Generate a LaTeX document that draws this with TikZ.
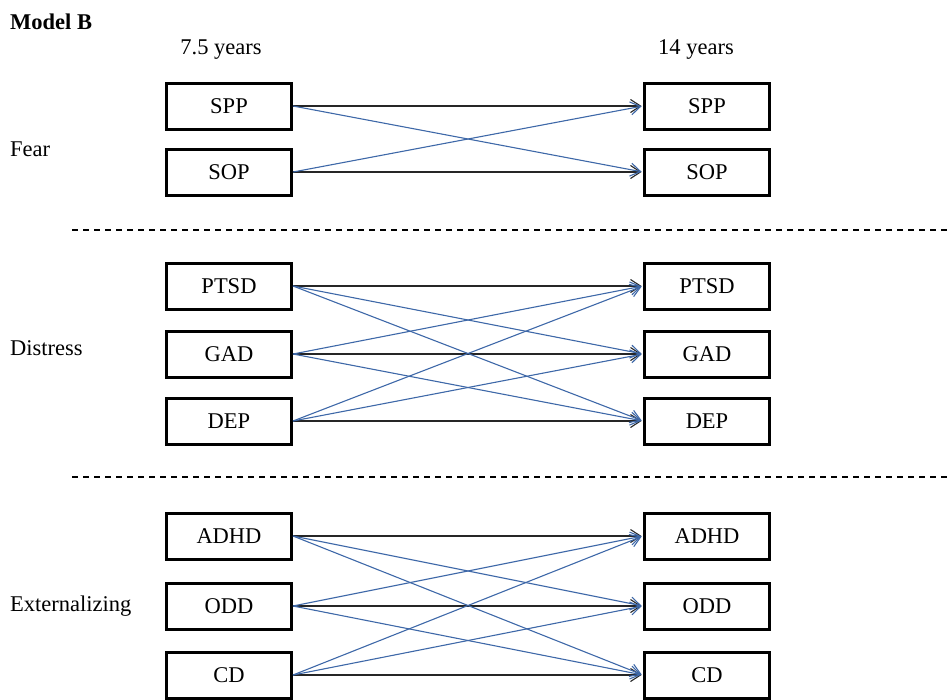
\documentclass[tikz,border=0pt]{standalone}
\usepackage{fontspec}
\setmainfont{Liberation Serif}
\usetikzlibrary{arrows.meta}
\definecolor{pathblue}{RGB}{62,104,168}

\begin{document}
\begin{tikzpicture}[x=1pt,y=-1pt,>={Straight Barb[length=10pt,width=13pt]},shorten >=1.5pt,
    box node/.style={rectangle,draw,line width=3pt,minimum width=125pt,minimum height=46pt,inner sep=0pt,font=\fontsize{22.5}{26}\selectfont},
    label node/.style={anchor=base west,inner sep=0pt,font=\fontsize{22.5}{26}\selectfont},
    cross/.style={->,line width=1.1pt,color=pathblue},
    straight/.style={->,line width=1.1pt,color=black!85}]
   \useasboundingbox (0,0) rectangle (948,699);
   % headings
   \node[label node,font=\fontsize{22.5}{26}\selectfont\bfseries] (title) at (10,29) {Model B};
   \node[label node,anchor=base] (t1) at (221,54) {7.5 years};
   \node[label node,anchor=base] (t2) at (696,54) {14 years};
   \node[label node] (fear) at (10,156) {Fear};
   \node[label node] (distress) at (10,355) {Distress};
   \node[label node] (ext) at (10,611) {Externalizing};
   % 7.5 years
   \node[box node] (spp1) at (229,106) {SPP};
   \node[box node] (sop1) at (229,172) {SOP};
   \node[box node] (ptsd1) at (229,286) {PTSD};
   \node[box node] (gad1) at (229,354) {GAD};
   \node[box node] (dep1) at (229,421) {DEP};
   \node[box node] (adhd1) at (229,536) {ADHD};
   \node[box node] (odd1) at (229,606) {ODD};
   \node[box node] (cd1) at (229,675) {CD};
   % 14 years
   \node[box node] (spp2) at (707,106) {SPP};
   \node[box node] (sop2) at (707,172) {SOP};
   \node[box node] (ptsd2) at (707,286) {PTSD};
   \node[box node] (gad2) at (707,354) {GAD};
   \node[box node] (dep2) at (707,421) {DEP};
   \node[box node] (adhd2) at (707,536) {ADHD};
   \node[box node] (odd2) at (707,606) {ODD};
   \node[box node] (cd2) at (707,675) {CD};
   % separators
   \coordinate (s1a) at (72,230);
   \coordinate (s1b) at (948,230);
   \coordinate (s2a) at (72,477);
   \coordinate (s2b) at (948,477);
   \path[-,line width=1.3pt,dash pattern=on 6pt off 5pt,shorten >=0pt] (s1a) edge (s1b);
   \path[-,line width=1.3pt,dash pattern=on 6pt off 5pt,shorten >=0pt] (s2a) edge (s2b);
   % fear
   \path[straight] (spp1.east) edge (spp2.west);
   \path[straight] (sop1.east) edge (sop2.west);
   \path[cross] (spp1.east) edge (sop2.west);
   \path[cross] (sop1.east) edge (spp2.west);
   % distress
   \path[straight] (ptsd1.east) edge (ptsd2.west);
   \path[straight] (gad1.east) edge (gad2.west);
   \path[straight] (dep1.east) edge (dep2.west);
   \path[cross] (ptsd1.east) edge (gad2.west);
   \path[cross] (ptsd1.east) edge (dep2.west);
   \path[cross] (gad1.east) edge (ptsd2.west);
   \path[cross] (gad1.east) edge (dep2.west);
   \path[cross] (dep1.east) edge (ptsd2.west);
   \path[cross] (dep1.east) edge (gad2.west);
   % externalizing
   \path[straight] (adhd1.east) edge (adhd2.west);
   \path[straight] (odd1.east) edge (odd2.west);
   \path[straight] (cd1.east) edge (cd2.west);
   \path[cross] (adhd1.east) edge (odd2.west);
   \path[cross] (adhd1.east) edge (cd2.west);
   \path[cross] (odd1.east) edge (adhd2.west);
   \path[cross] (odd1.east) edge (cd2.west);
   \path[cross] (cd1.east) edge (adhd2.west);
   \path[cross] (cd1.east) edge (odd2.west);
\end{tikzpicture}
\end{document}
